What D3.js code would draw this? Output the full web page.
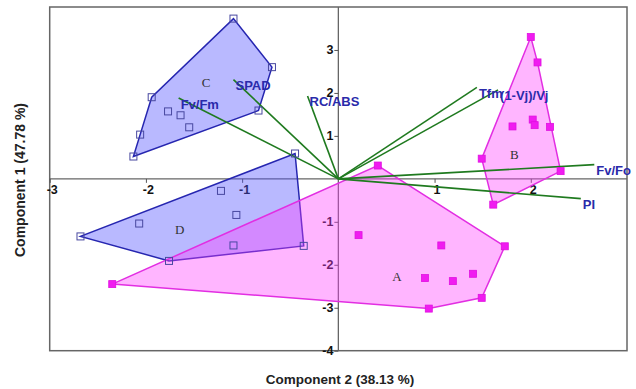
<!DOCTYPE html>
<html>
<head>
<meta charset="utf-8">
<script src="https://cdn.jsdelivr.net/npm/d3@7"></script>
<style>
  html, body { margin: 0; padding: 0; background: #fff; }
  svg { display: block; }
</style>
</head>
<body>
<svg id="chart" width="636" height="389"></svg>
<script>
// PCA biplot: Component 2 (horizontal) vs Component 1 (vertical)

// Scores, group A (magenta filled)
const groupA = [
  [0.41, 0.31], [0.21, -1.31], [1.07, -1.55], [1.73, -1.57], [0.90, -2.31],
  [1.19, -2.38], [1.40, -2.21], [1.49, -2.77], [0.94, -3.02], [-2.35, -2.45]
];
// Scores, group B (magenta filled)
const groupB = [
  [2.00, 3.30], [2.07, 2.71], [1.81, 1.22], [2.02, 1.38], [2.04, 1.25],
  [2.20, 1.21], [1.49, 0.47], [2.31, 0.18], [1.61, -0.60]
];
// Scores, group C (blue open)
const groupC = [
  [-1.09, 3.73], [-0.69, 2.60], [-0.83, 1.59], [-1.94, 1.90], [-1.77, 1.57],
  [-1.64, 1.48], [-1.55, 1.20], [-2.06, 1.03], [-2.13, 0.52]
];
// Scores, group D (blue open)
const groupD = [
  [-0.45, 0.59], [-1.22, -0.28], [-1.06, -0.84], [-2.07, -1.04], [-2.68, -1.34],
  [-1.76, -1.91], [-1.09, -1.55], [-0.36, -1.56]
];

// Group letters and where they sit
const groupNames = ["A", "B", "C", "D"];
const groupNamePos = [[0.61, -2.27], [1.83, 0.56], [-1.375, 2.25], [-1.65, -1.17]];

// Variable loadings (arrow tips)
const varNames = ["Fv/Fm", "SPAD", "RC/ABS", "Tfm", "(1-Vj)/Vj", "Fv/Fo", "PI"];
const varX = [-1.66, -1.09, -0.32, 1.44, 1.66, 2.66, 2.52];
const varY = [1.88, 2.31, 1.93, 2.13, 2.07, 0.33, -0.46];

// Axis ticks
const xTicks = [-3, -2, -1, 1, 2];
const yTicks = [-4, -3, -2, -1, 1, 2, 3];
const xTitle = "Component 2 (38.13 %)";
const yTitle = "Component 1 (47.78 %)";

const svg = d3.select("#chart");
const x = d3.scaleLinear().domain([-3, 3]).range([49.7, 627]);
const y = d3.scaleLinear().domain([-4, 4]).range([350.7, 7]);

const BLUE_FILL = "rgba(80,80,255,0.40)";
const BLUE_LINE = "#2626b0";
const MAG_FILL = "rgba(255,60,255,0.38)";
const MAG_LINE = "#e22ee2";
const GREEN = "#1f7a1f";
const LABEL_BLUE = "#2a2aaa";
const SANS = "Arial, 'Liberation Sans', sans-serif";

// Frame
svg.append("rect")
  .attr("x", x(-3)).attr("y", y(4))
  .attr("width", x(3) - x(-3)).attr("height", y(-4) - y(4))
  .attr("fill", "none").attr("stroke", "#666").attr("stroke-width", 1.5);

// Axes through origin
svg.append("line")
  .attr("x1", x(-3)).attr("x2", x(3)).attr("y1", y(0)).attr("y2", y(0))
  .attr("stroke", "#666").attr("stroke-width", 1.3);
svg.append("line")
  .attr("x1", x(0)).attr("x2", x(0)).attr("y1", y(4)).attr("y2", y(-4))
  .attr("stroke", "#666").attr("stroke-width", 1.3);

const fmt = d => String(d);
const xAxis = svg.append("g")
  .attr("transform", `translate(0,${y(0)})`)
  .call(d3.axisBottom(x).tickValues(xTicks).tickSize(4).tickPadding(2).tickFormat(fmt));
const yAxis = svg.append("g")
  .attr("transform", `translate(${x(0)},0)`)
  .call(d3.axisLeft(y).tickValues(yTicks).tickSize(4).tickPadding(1).tickFormat(fmt));
[xAxis, yAxis].forEach(g => {
  g.select(".domain").remove();
  g.selectAll(".tick line").attr("stroke", "#555");
  g.selectAll(".tick text")
    .attr("fill", "#111")
    .style("font-family", SANS)
    .style("font-size", "12.5px")
    .style("font-weight", "bold");
});
xAxis.selectAll(".tick text").attr("dx", 2);

// Convex hulls of each group
function hullPath(pts) {
  const px = pts.map(p => [x(p[0]), y(p[1])]);
  return "M" + d3.polygonHull(px).join("L") + "Z";
}
const hulls = [
  { pts: groupC, fill: BLUE_FILL, stroke: BLUE_LINE },
  { pts: groupD, fill: BLUE_FILL, stroke: BLUE_LINE },
  { pts: groupA, fill: MAG_FILL, stroke: MAG_LINE },
  { pts: groupB, fill: MAG_FILL, stroke: MAG_LINE }
];
svg.append("g").selectAll("path").data(hulls).join("path")
  .attr("d", d => hullPath(d.pts))
  .attr("fill", d => d.fill)
  .attr("stroke", d => d.stroke)
  .attr("stroke-width", 1.5)
  .attr("stroke-linejoin", "miter");

// Loading vectors
const vars = varNames.map((n, i) => ({ name: n, vx: varX[i], vy: varY[i] }));
svg.append("g").selectAll("line").data(vars).join("line")
  .attr("x1", x(0)).attr("y1", y(0))
  .attr("x2", d => x(d.vx)).attr("y2", d => y(d.vy))
  .attr("stroke", GREEN).attr("stroke-width", 1.6);

// Score markers
const sq = 7;
svg.append("g").selectAll("rect").data(groupC.concat(groupD)).join("rect")
  .attr("x", d => x(d[0]) - sq / 2).attr("y", d => y(d[1]) - sq / 2)
  .attr("width", sq).attr("height", sq)
  .attr("fill", "none").attr("stroke", "#4848a0").attr("stroke-width", 1);
svg.append("g").selectAll("rect").data(groupA.concat(groupB)).join("rect")
  .attr("x", d => x(d[0]) - sq / 2).attr("y", d => y(d[1]) - sq / 2)
  .attr("width", sq).attr("height", sq)
  .attr("fill", "#f01cf0").attr("stroke", "#e010e0").attr("stroke-width", 0.8);

// Variable labels at arrow tips
svg.append("g").selectAll("text").data(vars).join("text")
  .attr("x", d => x(d.vx) + 2)
  .attr("y", d => y(d.vy) + 10.5)
  .attr("fill", LABEL_BLUE)
  .style("font-family", SANS)
  .style("font-size", "13px")
  .style("font-weight", "bold")
  .text(d => d.name);

// Group letters
svg.append("g").selectAll("text").data(groupNames).join("text")
  .attr("x", (d, i) => x(groupNamePos[i][0]))
  .attr("y", (d, i) => y(groupNamePos[i][1]))
  .attr("text-anchor", "middle")
  .attr("dominant-baseline", "central")
  .attr("fill", "#333")
  .style("font-family", "'Liberation Serif', 'Times New Roman', serif")
  .style("font-size", "13px")
  .text(d => d);

// Axis titles
svg.append("text")
  .attr("x", 340).attr("y", 384)
  .attr("text-anchor", "middle")
  .attr("fill", "#222")
  .style("font-family", SANS)
  .style("font-size", "13.5px")
  .style("font-weight", "bold")
  .text(xTitle);
svg.append("text")
  .attr("transform", "translate(25,180) rotate(-90)")
  .attr("text-anchor", "middle")
  .attr("fill", "#222")
  .style("font-family", SANS)
  .style("font-size", "14px")
  .style("font-weight", "bold")
  .text(yTitle);
</script>
</body>
</html>
